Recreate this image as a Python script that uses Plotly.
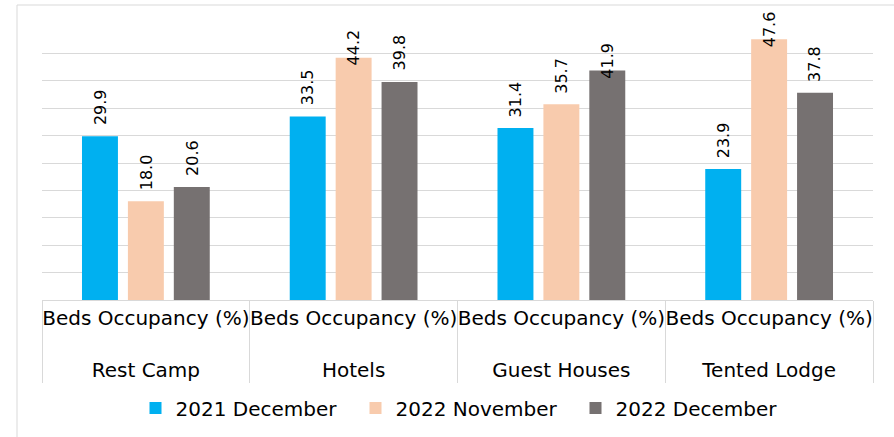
import plotly.graph_objects as go

categories = ["Rest Camp", "Hotels", "Guest Houses", "Tented Lodge"]
measure = "Beds Occupancy (%)"
series_names = ["2021 December", "2022 November", "2022 December"]
dec2021 = [29.9, 33.5, 31.4, 23.9]
nov2022 = [18.0, 44.2, 35.7, 47.6]
dec2022 = [20.6, 39.8, 41.9, 37.8]
colors = ["#00B0F0", "#F8CBAD", "#767171"]

W, H = 894, 437
L, R, T, B = 42, 21, 26, 137
pw, ph = W - L - R, H - T - B
BARGAP, GROUPGAP = 0.337, 0.217

x = [["<br>" + c for c in categories], [measure] * len(categories)]

fig = go.Figure()
all_series = [dec2021, nov2022, dec2022]
for name, vals, col in zip(series_names, all_series, colors):
    fig.add_trace(go.Bar(
        x=x, y=vals, name=name, marker=dict(color=col, line=dict(width=0)),
        hoverinfo="y",
    ))

# helper overlay axis (numeric category index) for rotated value labels
fig.add_trace(go.Scatter(x=list(range(len(categories))), y=[None] * len(categories),
                         xaxis="x2", yaxis="y", showlegend=False, hoverinfo="skip",
                         mode="markers"))

slot = (1 - BARGAP) / len(all_series)
annotations = []
for si, vals in enumerate(all_series):
    off = (si - (len(all_series) - 1) / 2) * slot
    for ci, v in enumerate(vals):
        top_room = 50 - v
        shift = 29 if top_room * ph / 50 > 45 else 10
        annotations.append(dict(
            x=ci + off, y=v, xref="x2", yref="y", text=f"{v:.1f}",
            showarrow=False, textangle=-90, xanchor="center", yanchor="middle",
            yshift=shift, font=dict(family="DejaVu Sans", size=16, color="#000000"),
        ))

fig.update_layout(
    width=W, height=H,
    margin=dict(l=L, r=R, t=T, b=B, autoexpand=False),
    paper_bgcolor="white", plot_bgcolor="white",
    barmode="group", bargap=BARGAP, bargroupgap=GROUPGAP,
    font=dict(family="DejaVu Sans", size=19, color="#000000"),
    showlegend=True,
    legend=dict(orientation="h", x=0.5 + 8 / pw, xanchor="center", xref="paper",
                y=(H - 408) / H, yanchor="middle", yref="container",
                font=dict(size=20), entrywidth=175, traceorder="normal"),
    xaxis=dict(type="multicategory", showline=True, linecolor="#D9D9D9", linewidth=1,
               showdividers=True, dividercolor="#D9D9D9", dividerwidth=1,
               ticks="", showgrid=False, tickfont=dict(size=20), tickangle=0,
               automargin=False),
    xaxis2=dict(overlaying="x", range=[-0.5, len(categories) - 0.5], visible=False,
                automargin=False),
    yaxis=dict(range=[0, 50], dtick=5, showticklabels=False, showgrid=True,
               gridcolor="#D9D9D9", gridwidth=1, zeroline=False, showline=False,
               automargin=False),
    annotations=annotations,
    shapes=[dict(type="rect", xref="paper", yref="paper",
                 x0=(17 - L) / pw, x1=(W + 10 - L) / pw,
                 y0=(ph + T - (H + 10)) / ph, y1=(ph + T - 5) / ph,
                 line=dict(color="#D9D9D9", width=1), layer="below")],
)

fig.write_html("out.html", config={"displayModeBar": False},
               post_script="document.body.style.margin='0px';")
